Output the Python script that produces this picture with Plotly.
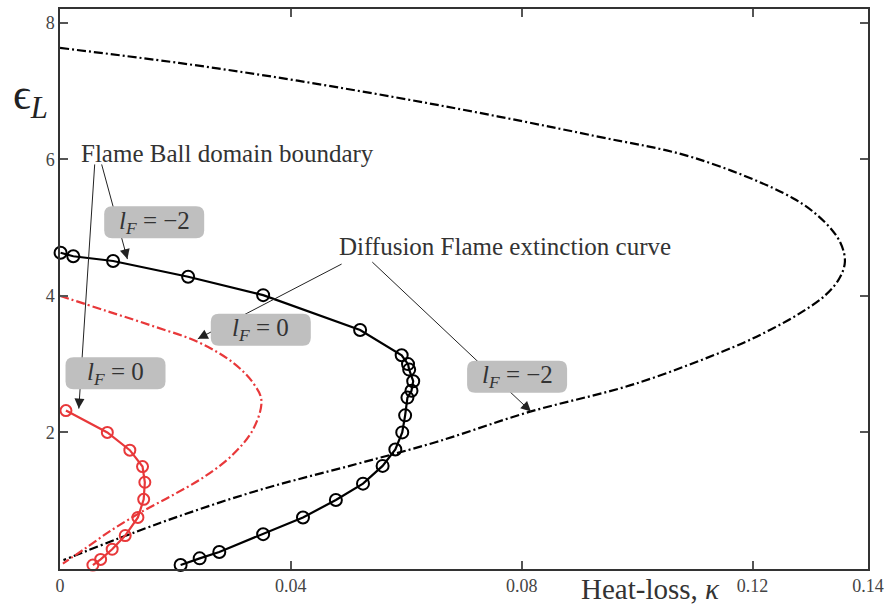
import math
import plotly.graph_objects as go

# ---------------- data ----------------
# Flame-ball domain boundary, l_F = -2 (black, circles)
fb_m2_x = [0.0001, 0.0023, 0.0092, 0.0222, 0.0352, 0.0520, 0.0592, 0.0603, 0.0605, 0.0612,
           0.0609, 0.0602, 0.0598, 0.0593, 0.0581, 0.0559, 0.0525, 0.0478, 0.0421, 0.0352,
           0.0276, 0.0242, 0.0209]
fb_m2_y = [4.63, 4.58, 4.51, 4.28, 4.01, 3.50, 3.13, 3.00, 2.92, 2.75,
           2.61, 2.51, 2.25, 2.00, 1.75, 1.51, 1.25, 1.01, 0.755, 0.51,
           0.25, 0.156, 0.058]

# Flame-ball domain boundary, l_F = 0 (red, circles)
fb_0_x = [0.00103, 0.0082, 0.0121, 0.0143, 0.0147, 0.0145, 0.0135, 0.0113, 0.00904, 0.00704, 0.0057]
fb_0_y = [2.32, 2.00, 1.74, 1.50, 1.27, 1.02, 0.755, 0.49, 0.29, 0.14, 0.058]

# Diffusion flame extinction curve, l_F = 0 (red, dash-dot)
df_0_x = [0.0, 0.008, 0.016, 0.024, 0.030, 0.0335, 0.0349, 0.0335, 0.0300, 0.0250, 0.0195,
          0.0140, 0.0086, 0.0040, 0.0005]
df_0_y = [4.00, 3.78, 3.56, 3.32, 3.02, 2.72, 2.47, 2.05, 1.68, 1.35, 1.08,
          0.83, 0.55, 0.28, 0.08]

# Diffusion flame extinction curve, l_F = -2 (black, dash-dot)
df_m2_x = [0.0, 0.0206, 0.0412, 0.067, 0.0927, 0.1099, 0.1270, 0.1325, 0.1352, 0.1360,
           0.1350, 0.1325, 0.1283, 0.1230, 0.1167, 0.0996, 0.0813, 0.0652, 0.0515, 0.0343, 0.0172, 0.0006]
df_m2_y = [7.63, 7.41, 7.15, 6.77, 6.34, 6.02, 5.43, 5.08, 4.78, 4.50,
           4.25, 4.00, 3.75, 3.50, 3.25, 2.71, 2.30, 1.86, 1.54, 1.15, 0.67, 0.13]

x_tickvals = [0, 0.04, 0.08, 0.12, 0.14]
x_ticktext = ["0", "0.04", "0.08", "0.12", "0.14"]
y_tickvals = [2, 4, 6, 8]
y_ticktext = ["2", "4", "6", "8"]

# annotation texts / anchor points
label_texts = ["Flame Ball domain boundary", "Diffusion Flame extinction curve"]
label_x = [0.02903, 0.07713]
label_y = [6.084, 4.727]

box_texts = ["<i>l</i><sub><i>F</i></sub> = \u22122", "<i>l</i><sub><i>F</i></sub> = 0",
             "<i>l</i><sub><i>F</i></sub> = 0", "<i>l</i><sub><i>F</i></sub> = \u22122"]
box_x = [0.01632, 0.00962, 0.03479, 0.07920]
box_y = [5.077, 2.867, 3.502, 2.816]

arrow_tail_x = [0.00601, 0.00722, 0.04879, 0.05411]
arrow_tail_y = [5.924, 5.924, 4.465, 4.494]
arrow_head_x = [0.00326, 0.01168, 0.02388, 0.08160]
arrow_head_y = [2.349, 4.538, 3.370, 2.305]

SERIF = "Liberation Serif, DejaVu Serif, serif"
RED = "#e8383a"
DASHDOT = "9px,3px,2px,3px"
X_RANGE = [0, 0.14]
Y_RANGE = [0, 8.2]
W, H = 891, 605
M = dict(l=60, r=16, t=7, b=36)

fig = go.Figure()

fig.add_trace(go.Scatter(x=df_m2_x, y=df_m2_y, mode="lines",
                         line=dict(color="black", width=2.2, dash=DASHDOT, shape="spline", smoothing=1.0)))
fig.add_trace(go.Scatter(x=df_0_x, y=df_0_y, mode="lines",
                         line=dict(color=RED, width=2.2, dash=DASHDOT, shape="spline", smoothing=1.0)))
fig.add_trace(go.Scatter(x=fb_m2_x, y=fb_m2_y, mode="lines+markers", cliponaxis=False,
                         line=dict(color="black", width=2.2),
                         marker=dict(symbol="circle-open", size=12, color="black", line=dict(width=2, color="black"))))
fig.add_trace(go.Scatter(x=fb_0_x, y=fb_0_y, mode="lines+markers", cliponaxis=False,
                         line=dict(color=RED, width=2.2),
                         marker=dict(symbol="circle-open", size=11, color=RED, line=dict(width=2, color=RED))))

# pixel scale of the axes (used only to size the short arrowhead stems)
sx = (W - M["l"] - M["r"]) / (X_RANGE[1] - X_RANGE[0])
sy = (H - M["t"] - M["b"]) / (Y_RANGE[1] - Y_RANGE[0])

shapes = []
annotations = []
# leader lines (drawn beneath the label boxes)
for tx, ty, hx, hy in zip(arrow_tail_x, arrow_tail_y, arrow_head_x, arrow_head_y):
    shapes.append(dict(type="line", xref="x", yref="y", x0=tx, y0=ty, x1=hx, y1=hy,
                       line=dict(color="#222222", width=1), layer="above"))
    L = math.hypot((tx - hx) * sx, (ty - hy) * sy)
    f = 12.0 / L
    annotations.append(dict(x=hx, y=hy, ax=hx + f * (tx - hx), ay=hy + f * (ty - hy),
                            xref="x", yref="y", axref="x", ayref="y",
                            text="", showarrow=True, arrowhead=2, arrowsize=2, arrowwidth=1,
                            arrowcolor="#222222", standoff=0))

# rounded grey label boxes
hw, hh, r = 50, 16, 8
box_path = (f"M {-hw + r},{-hh} L {hw - r},{-hh} Q {hw},{-hh} {hw},{-hh + r} "
            f"L {hw},{hh - r} Q {hw},{hh} {hw - r},{hh} L {-hw + r},{hh} "
            f"Q {-hw},{hh} {-hw},{hh - r} L {-hw},{-hh + r} Q {-hw},{-hh} {-hw + r},{-hh} Z")
for bx, by in zip(box_x, box_y):
    shapes.append(dict(type="path", xref="x", yref="y", xsizemode="pixel", ysizemode="pixel",
                       xanchor=bx, yanchor=by, path=box_path,
                       fillcolor="#bfbfbf", line=dict(width=0), layer="above"))

for t, bx, by in zip(box_texts, box_x, box_y):
    annotations.append(dict(x=bx, y=by, xref="x", yref="y", text=t, showarrow=False,
                            xanchor="center", yanchor="middle",
                            font=dict(family=SERIF, size=25, color="#333333")))
for t, lx, ly in zip(label_texts, label_x, label_y):
    annotations.append(dict(x=lx, y=ly, xref="x", yref="y", text=t, showarrow=False,
                            xanchor="center", yanchor="middle",
                            font=dict(family=SERIF, size=25, color="#333333")))

# axis titles
annotations.append(dict(x=-0.0368, y=0.842, xref="paper", yref="paper", text="\u03f5<sub><i>L</i></sub>",
                        xanchor="center", yanchor="middle",
                        showarrow=False, font=dict(family=SERIF, size=44, color="#222222")))
annotations.append(dict(x=0.7313, y=-0.036, xref="paper", yref="paper", text="Heat-loss, <i>\u03ba</i>",
                        xanchor="center", yanchor="middle",
                        showarrow=False, font=dict(family=SERIF, size=29, color="#333333")))

fig.update_layout(
    width=W, height=H,
    margin=M,
    plot_bgcolor="white", paper_bgcolor="white",
    showlegend=False,
    shapes=shapes,
    annotations=annotations,
)
fig.update_xaxes(range=X_RANGE, tickvals=x_tickvals, ticktext=x_ticktext,
                 ticks="inside", ticklen=8, tickcolor="#555555", tickwidth=1.5,
                 showline=True, linecolor="#333333", linewidth=1.5, mirror="ticks",
                 showgrid=False, zeroline=False,
                 tickfont=dict(family=SERIF, size=18, color="#444444"))
fig.update_yaxes(range=Y_RANGE, tickvals=y_tickvals, ticktext=y_ticktext,
                 ticks="inside", ticklen=8, tickcolor="#555555", tickwidth=1.5,
                 showline=True, linecolor="#333333", linewidth=1.5, mirror="ticks",
                 showgrid=False, zeroline=False,
                 tickfont=dict(family=SERIF, size=18, color="#444444"))

fig.write_html("out.html")
